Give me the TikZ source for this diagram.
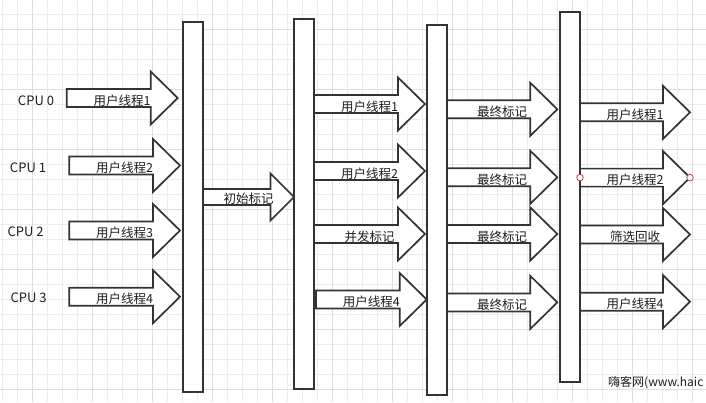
\documentclass[tikz,border=0pt]{standalone}
\usepackage{fontspec}
\setmainfont{Noto Sans CJK SC}
\usetikzlibrary{positioning}

\definecolor{edge}{RGB}{51,51,51}
\definecolor{ink}{RGB}{30,30,30}
\definecolor{gridminor}{RGB}{236,236,236}
\definecolor{gridmajor}{RGB}{222,222,222}
\definecolor{handle}{RGB}{170,70,70}

\tikzset{
    bar/.style={draw=edge, fill=white, line width=1.7pt, minimum width=20pt, inner sep=0pt},
    arrowbody/.style={draw=edge, fill=white, line width=1.7pt, line join=miter},
    arrowlabel/.style={text=ink, inner sep=0pt, font=\fontsize{12.5}{14}\selectfont},
    cpulabel/.style={text=ink, inner sep=0pt, font=\fontsize{13}{15}\selectfont},
}

% name, start x, tip x, centre y, text
\newcommand{\blockarrow}[5]{%
    \draw[arrowbody] (#2,#4-9) -- (#3-27,#4-9) -- (#3-27,#4-26.5) -- (#3,#4)
        -- (#3-27,#4+26.5) -- (#3-27,#4+9) -- (#2,#4+9) -- cycle;
    \node[arrowlabel] (#1) at ({(#2+#3)/2},#4+2.3) {#5};
}

\begin{document}
\begin{tikzpicture}[x=1pt, y=-1pt]
    \useasboundingbox (0,0) rectangle (706,402);
    \clip (0,0) rectangle (706,402);
    \fill[white] (0,0) rectangle (706,402);

    % background grid
    \foreach \gx in {2,17,...,707} \draw[gridminor, line width=0.6pt] (\gx,0) -- (\gx,402);
    \foreach \gy in {14,29,...,402} \draw[gridminor, line width=0.6pt] (0,\gy) -- (706,\gy);
    \foreach \gx in {32,92,...,707} \draw[gridmajor, line width=0.7pt] (\gx,0) -- (\gx,402);
    \foreach \gy in {29,89,...,402} \draw[gridmajor, line width=0.7pt] (0,\gy) -- (706,\gy);

    % cpus
    \node[cpulabel] (cpu0) at (36,100.3) {CPU 0};
    \node[cpulabel] (cpu1) at (28,167.7) {CPU 1};
    \node[cpulabel] (cpu2) at (25.7,232) {CPU 2};
    \node[cpulabel] (cpu3) at (28.7,298) {CPU 3};

    % pauses
    \node[bar, minimum height=370pt] (stop1) at (193,207) {};
    \node[bar, minimum height=370pt] (stop2) at (304,204) {};
    \node[bar, minimum height=370pt] (stop3) at (437,210) {};
    \node[bar, minimum height=370pt] (stop4) at (570,197) {};

    % user threads
    \blockarrow{ut1}{66.7}{177.7}{98}{用户线程1}
    \blockarrow{ut2}{69.3}{180}{165.5}{用户线程2}
    \blockarrow{ut3}{69.3}{180}{230.5}{用户线程3}
    \blockarrow{ut4}{69.3}{180}{296.7}{用户线程4}

    % initial mark
    \draw[arrowbody] (203,189) -- (270.5,189) -- (270.5,173.5) -- (294,197)
        -- (270.5,220.5) -- (270.5,205) -- (203,205) -- cycle;
    \node[arrowlabel] (initmark) at (248.5,198.5) {初始标记};

    % concurrent phase
    \blockarrow{cu1}{314}{425}{104}{用户线程1}
    \blockarrow{cu2}{314}{425}{171}{用户线程2}
    \blockarrow{cmark}{314}{425}{234}{并发标记}
    \blockarrow{cu4}{316}{426.7}{299.5}{用户线程4}

    % final mark
    \blockarrow{fm1}{447}{557.3}{109.3}{最终标记}
    \blockarrow{fm2}{447}{557.3}{177.3}{最终标记}
    \blockarrow{fm3}{447}{557.3}{234}{最终标记}
    \blockarrow{fm4}{447}{557.3}{302.4}{最终标记}

    % sweep phase
    \blockarrow{su1}{580}{690}{112.3}{用户线程1}
    \blockarrow{su2}{580}{690}{177.6}{用户线程2}
    \blockarrow{sweep}{580}{690}{234.5}{筛选回收}
    \blockarrow{su4}{580}{690}{301.7}{用户线程4}

    \draw[handle, fill=white, line width=0.8pt] (580,177.6) circle (3.3);
    \draw[handle, fill=white, line width=0.8pt] (690,177.6) circle (3.3);

    \node[arrowlabel, anchor=west, font=\fontsize{12}{14}\selectfont] (site) at (608,382.5) {嗨客网(www.haic};
\end{tikzpicture}
\end{document}
